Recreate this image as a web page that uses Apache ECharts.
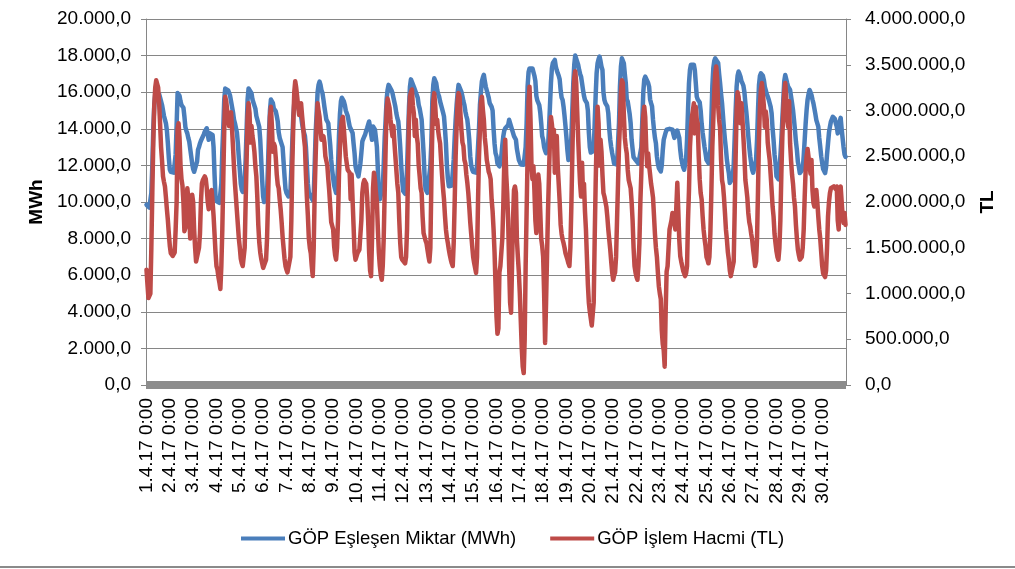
<!DOCTYPE html>
<html>
<head>
<meta charset="utf-8">
<script src="https://cdn.jsdelivr.net/npm/echarts@6/dist/echarts.min.js"></script>
<style>
html,body{margin:0;padding:0;background:#fff;}
#chart{width:1015px;height:569px;}
</style>
</head>
<body>
<div id="chart"></div>
<script>
// Day labels (category axis ticks)
var dayLabels = ['1.4.17','2.4.17','3.4.17','4.4.17','5.4.17','6.4.17','7.4.17','8.4.17','9.4.17','10.4.17',
  '11.4.17','12.4.17','13.4.17','14.4.17','15.4.17','16.4.17','17.4.17','18.4.17','19.4.17','20.4.17',
  '21.4.17','22.4.17','23.4.17','24.4.17','25.4.17','26.4.17','27.4.17','28.4.17','29.4.17','30.4.17'];
var hourLabels = ['0:00','1:00','2:00','3:00','4:00','5:00','6:00','7:00','8:00','9:00','10:00','11:00',
  '12:00','13:00','14:00','15:00','16:00','17:00','18:00','19:00','20:00','21:00','22:00','23:00'];

var leftTicks = [0,2000,4000,6000,8000,10000,12000,14000,16000,18000,20000];
var rightTicks = [0,500000,1000000,1500000,2000000,2500000,3000000,3500000,4000000];

var seriesNames = ['GÖP Eşleşen Miktar (MWh)', 'GÖP İşlem Hacmi (TL)'];

// GÖP Eşleşen Miktar (MWh), hourly, one row per day
var eslesenMWh = [
 9850,9800,9750,9700,9750,10500,12000,14000,15300,15900,16050,16100,16050,15900,15700,15600,15300,15000,14700,14500,14300,13900,13200,12400,
 11770,11650,11600,11600,11600,11650,12600,14200,15950,15950,15800,15500,15300,15250,15150,14670,14100,13900,13750,13500,13300,12900,12500,12100,
 11800,11650,11600,11600,12200,12850,13000,13200,13350,13450,13580,13700,13850,13950,14030,13700,13400,13760,13850,13800,13670,13000,11500,10300,
 10050,10000,9950,9950,10000,11000,12800,14100,15600,16200,16250,16200,16100,15950,15800,15500,15200,14900,14500,14300,14200,13800,13200,12400,
 11750,11000,10670,10550,10500,11200,12300,14000,15600,16200,16200,16100,15950,15600,15550,15500,15100,14700,14500,14400,14100,13400,12300,11200,
 10300,10000,9900,9900,10500,12000,13800,15000,15600,15600,15400,15100,15000,14950,14700,14400,13800,13500,13400,13400,13000,12200,11400,10700,
 10500,10400,10300,10300,10500,11800,13300,14700,15400,15600,15600,15500,15200,15000,14900,14700,14300,14000,13800,13600,13000,12000,11000,10500,
 10400,10300,10200,10100,10300,12000,13800,14850,16000,16400,16580,16400,16100,15950,15600,15200,14850,14500,14400,14300,13700,13100,12300,11750,
 11300,10900,10700,10500,10800,12000,13600,14800,15500,15700,15700,15500,15300,15000,14850,14700,14400,14130,14000,13900,13770,13200,12670,11950,
 11700,11580,11400,11300,12100,12670,13300,13450,13580,13700,13900,14050,14130,14400,14400,14300,13400,14130,14050,13950,13500,13000,11770,10500,
 10150,10130,10150,10800,12000,13500,14500,15600,16130,16400,16350,16300,16100,15950,15700,15450,15200,14850,14580,14400,13800,13000,12000,11200,
 10600,10500,10450,10700,11800,13500,15200,16300,16700,16700,16600,16300,16200,16000,15900,15700,15300,15100,15000,14500,13600,12700,11500,10700,
 10600,10500,10500,10550,12000,13200,15500,16400,16760,16700,16500,16130,15900,15760,15500,15400,15100,14900,14670,14000,13200,12000,11300,10860,
 10860,10860,10900,11000,12300,13500,14500,15300,15950,16400,16500,16300,16000,15760,15500,15300,14950,14700,14500,14000,13400,12500,12000,11770,
 11650,11600,11600,11600,12000,13000,14000,15300,16000,16600,16800,16950,16600,16300,16250,16200,15700,15400,15300,15200,15000,14000,13200,12670,
 12500,12100,12000,11950,12000,12500,13100,13580,13900,14030,14050,14030,14200,14490,14550,14580,13950,13950,13600,13500,13400,12900,12600,12300,
 12200,12050,12040,12040,12040,12100,13000,14300,16300,17100,17300,17350,17400,17300,17100,16900,16600,15800,15550,15500,15300,14900,14300,13600,
 13400,13000,12800,12670,12700,13000,14000,15220,16500,17300,17600,17700,17760,17400,17200,17040,16900,16700,16100,15700,15580,15200,14700,14130,
 13500,12800,12300,12300,12600,13500,15000,16500,17500,18000,18100,17950,17500,17220,17000,16850,16500,16130,15800,15580,15500,15400,15000,13800,
 13000,12700,12670,12670,12800,14300,15800,17040,17580,17800,17950,17700,17400,17220,16000,15580,15400,15300,15220,14850,14000,13400,13000,12670,
 12400,12100,12040,12040,12050,13200,14300,16300,17400,17850,17800,17580,17000,16490,15600,15490,15450,14800,14300,13400,12900,12450,12350,12300,
 12300,12200,12100,12100,12100,13000,14500,16000,16700,16850,16850,16750,16500,16300,15600,15400,15220,14500,13950,13500,13200,12500,12100,11850,
 11750,11670,12000,12800,13400,13600,13800,13950,13950,13950,14000,14000,14000,13950,13700,13500,13400,13600,13900,13950,13500,12850,12400,12130,
 11900,11760,11760,12300,13400,15000,16500,17220,17500,17580,17600,17500,17200,16500,15760,15600,15500,15450,15000,14300,13800,13400,13000,12670,
 12300,12200,12130,12400,12850,14500,16300,17300,17700,17850,17870,17850,17600,17000,16490,15900,15400,14700,14000,13400,12900,12300,11900,11580,
 11040,11000,11220,11400,12000,13500,15000,16300,16900,17130,17000,16850,16600,16490,16350,16000,15400,14900,14300,13600,13000,12500,12100,11760,
 11600,11580,11650,12300,13400,15000,16400,16900,17030,17130,16900,16670,16300,16100,15900,15760,15600,15570,15200,14840,14000,13380,12600,12130,
 11400,11300,11240,11600,12500,13380,14500,15570,16600,16940,16850,16500,16300,16200,16120,15760,15400,15030,14500,13930,13300,12840,12200,11930,
 11580,11550,11490,11800,12500,13380,14300,15030,15600,15900,16120,16000,15850,15600,15390,15100,14800,14480,14300,14120,13500,13020,12500,12130,
 11800,11700,11580,11900,12600,13200,13800,14120,14400,14500,14660,14650,14550,14300,14120,13750,14000,14400,14600,14000,13500,13000,12600,12470
];

// GÖP İşlem Hacmi (TL), hourly, one row per day
var islemHacmiTL = [
 1260e3,1100e3,950e3,930e3,1000e3,1500e3,2100e3,2650e3,3050e3,3250e3,3330e3,3320e3,3250e3,3080e3,2850e3,2600e3,2450e3,2280e3,2220e3,2170e3,2050e3,1920e3,1800e3,1650e3,
 1520e3,1440e3,1420e3,1410e3,1410e3,1450e3,1700e3,2000e3,2800e3,2860e3,2700e3,2400e3,2250e3,2180e3,2000e3,1680e3,1720e3,1900e3,2150e3,2050e3,1850e3,1600e3,1750e3,2080e3,
 2000e3,1700e3,1500e3,1350e3,1330e3,1370e3,1500e3,1650e3,2000e3,2200e3,2240e3,2260e3,2280e3,2250e3,2150e3,2000e3,1920e3,1900e3,2100e3,2130e3,2000e3,1850e3,1650e3,1450e3,
 1300e3,1260e3,1180e3,1120e3,1050e3,1300e3,1700e3,2250e3,2800e3,3150e3,3100e3,3000e3,2900e3,2830e3,2950e3,2980e3,2800e3,2600e3,2380e3,2200e3,2050e3,1900e3,1750e3,1600e3,
 1500e3,1380e3,1330e3,1300e3,1320e3,1500e3,2000e3,2460e3,2930e3,3080e3,2970e3,2650e3,2830e3,2720e3,2650e3,2550e3,2390e3,2280e3,2050e3,1750e3,1560e3,1450e3,1380e3,1330e3,
 1280e3,1280e3,1300e3,1370e3,1600e3,2000e3,2460e3,2930e3,3040e3,2830e3,2550e3,2640e3,2610e3,2480e3,2300e3,2190e3,2150e3,2030e3,1920e3,1780e3,1620e3,1500e3,1380e3,1300e3,
 1260e3,1230e3,1220e3,1250e3,1400e3,1800e3,2400e3,2850e3,3200e3,3320e3,3250e3,3150e3,3040e3,2950e3,2950e3,3080e3,2950e3,2830e3,2700e3,2600e3,2300e3,2050e3,1850e3,1600e3,
 1500e3,1440e3,1300e3,1190e3,1500e3,2100e3,2500e3,2830e3,3080e3,3000e3,2930e3,2800e3,2680e3,2700e3,2720e3,2650e3,2500e3,2500e3,2400e3,2250e3,2120e3,1950e3,1780e3,1740e3,
 1700e3,1520e3,1420e3,1370e3,1500e3,1800e3,2300e3,2600e3,2800e3,2900e3,2930e3,2800e3,2650e3,2500e3,2420e3,2350e3,2330e3,2320e3,2030e3,2300e3,2320e3,1740e3,1450e3,1370e3,
 1390e3,1440e3,1450e3,1480e3,1500e3,1800e3,2100e3,2200e3,2240e3,2260e3,2200e3,2050e3,1800e3,1450e3,1250e3,1190e3,1600e3,2150e3,2320e3,2240e3,2100e3,2000e3,1700e3,1450e3,
 1300e3,1200e3,1150e3,1300e3,1600e3,2100e3,2600e3,3010e3,3130e3,3150e3,3030e3,2900e3,2800e3,2720e3,2830e3,2650e3,2500e3,2350e3,2200e3,2100e3,1800e3,1550e3,1400e3,1370e3,
 1370e3,1350e3,1330e3,1400e3,1700e3,2300e3,2900e3,3150e3,3200e3,3230e3,3050e3,2970e3,2720e3,2900e3,2720e3,2640e3,2400e3,2280e3,2150e3,2100e3,1840e3,1660e3,1620e3,1580e3,
 1550e3,1480e3,1410e3,1350e3,1500e3,2200e3,2800e3,3100e3,3190e3,3050e3,2850e3,2900e3,2780e3,2700e3,2640e3,2460e3,2300e3,2150e3,2030e3,1850e3,1700e3,1610e3,1550e3,1480e3,
 1420e3,1370e3,1330e3,1300e3,1550e3,2000e3,2500e3,2830e3,3100e3,3190e3,3150e3,2950e3,2780e3,2650e3,2610e3,2460e3,2420e3,2300e3,2210e3,2100e3,1950e3,1780e3,1650e3,1520e3,
 1400e3,1335e3,1280e3,1225e3,1400e3,2000e3,2500e3,2800e3,3080e3,3150e3,3010e3,2900e3,2700e3,2600e3,2460e3,2400e3,2330e3,2300e3,2250e3,2030e3,1900e3,1700e3,1450e3,1100e3,
 750e3,560e3,620e3,1230e3,1300e3,1280e3,1600e3,1950e3,2430e3,2680e3,2300e3,2100e3,1800e3,1300e3,900e3,790e3,1300e3,1800e3,2130e3,2170e3,2100e3,1590e3,1400e3,1230e3,
 1000e3,700e3,400e3,200e3,130e3,500e3,1300e3,1900e3,2500e3,3100e3,3260e3,2900e3,2400e3,2250e3,2390e3,2130e3,1800e3,1660e3,1810e3,2300e3,2200e3,1900e3,1600e3,1520e3,
 1400e3,1000e3,460e3,900e3,1410e3,1900e3,2300e3,2680e3,2930e3,2850e3,2720e3,2790e3,2320e3,2500e3,2720e3,2390e3,2200e3,2000e3,1750e3,1650e3,1590e3,1550e3,1500e3,1440e3,
 1420e3,1370e3,1330e3,1300e3,1500e3,1950e3,2500e3,3000e3,3350e3,3430e3,3300e3,3000e3,2700e3,2430e3,2200e3,2060e3,2430e3,2100e3,2200e3,1900e3,1700e3,1400e3,1100e3,900e3,
 800e3,790e3,650e3,640e3,900e3,1590e3,2200e3,2700e3,3040e3,2860e3,2400e3,2680e3,2550e3,2300e3,2100e3,2060e3,2040e3,1950e3,1840e3,1700e3,1590e3,1480e3,1350e3,1230e3,
 1150e3,1200e3,1230e3,1400e3,1800e3,2200e3,2600e3,2860e3,3200e3,3330e3,3300e3,2950e3,2700e3,2600e3,2530e3,2350e3,2240e3,2220e3,2150e3,2000e3,1800e3,1500e3,1300e3,1230e3,
 1180e3,1150e3,1300e3,1550e3,2000e3,2320e3,2700e3,2950e3,3040e3,2930e3,2600e3,2390e3,2530e3,2400e3,2300e3,2200e3,2130e3,2050e3,1850e3,1650e3,1500e3,1400e3,1230e3,1080e3,
 1000e3,940e3,600e3,450e3,380e3,200e3,800e3,1240e3,1300e3,1500e3,1700e3,1750e3,1800e3,1880e3,1850e3,1800e3,1700e3,1950e3,2210e3,1900e3,1590e3,1410e3,1350e3,1300e3,
 1250e3,1230e3,1190e3,1220e3,1300e3,1800e3,2130e3,2600e3,2800e3,2930e3,3000e3,3080e3,2750e3,3040e3,2900e3,2860e3,2500e3,2250e3,2100e3,2030e3,1850e3,1700e3,1600e3,1520e3,
 1400e3,1370e3,1330e3,1400e3,1660e3,2100e3,2600e3,2900e3,3200e3,3410e3,3480e3,3350e3,3050e3,2900e3,2800e3,2460e3,2240e3,2180e3,2050e3,1880e3,1700e3,1590e3,1450e3,1370e3,
 1250e3,1190e3,1180e3,1170e3,1350e3,1900e3,2500e3,3000e3,3200e3,3150e3,3040e3,2860e3,3080e3,2900e3,2700e3,2500e3,2240e3,2150e3,2050e3,1880e3,1780e3,1730e3,1650e3,1590e3,
 1480e3,1400e3,1300e3,1350e3,1600e3,2130e3,2700e3,3050e3,3230e3,3300e3,3190e3,3050e3,2820e3,2990e3,2900e3,2650e3,2550e3,2460e3,2300e3,2130e3,1950e3,1840e3,1650e3,1550e3,
 1460e3,1400e3,1370e3,1500e3,1800e3,2300e3,2700e3,2990e3,3200e3,3300e3,3150e3,2900e3,2820e3,3100e3,2640e3,2450e3,2300e3,2200e3,2050e3,1950e3,1750e3,1600e3,1480e3,1420e3,
 1370e3,1380e3,1400e3,1500e3,1700e3,2050e3,2350e3,2500e3,2580e3,2600e3,2400e3,2310e3,2460e3,2130e3,1990e3,1950e3,1930e3,2130e3,2000e3,1840e3,1700e3,1600e3,1450e3,1300e3,
 1220e3,1200e3,1180e3,1250e3,1500e3,1840e3,2000e3,2100e3,2150e3,2160e3,2170e3,2170e3,2150e3,2140e3,2170e3,1800e3,1700e3,2080e3,2170e3,2170e3,1850e3,1770e3,1880e3,1750e3
];

// Build hourly category labels from the day and hour lists
var categories = [];
dayLabels.forEach(function (d) { hourLabels.forEach(function (h) { categories.push(d + ' ' + h); }); });

function trFmt(v) {
  return String(Math.round(v)).replace(/\B(?=(\d{3})+(?!\d))/g, '.') + ',0';
}

var FONT = 'Liberation Sans';
var chart = echarts.init(document.getElementById('chart'), null, {renderer: 'canvas'});
chart.setOption({
  animation: false,
  backgroundColor: '#ffffff',
  textStyle: {fontFamily: FONT},
  grid: {left: 146, right: 169, top: 19, bottom: 184, containLabel: false},
  legend: {
    data: seriesNames,
    left: 236, top: 524,
    icon: 'rect', itemWidth: 44, itemHeight: 4, itemGap: 34,
    textStyle: {fontFamily: FONT, fontSize: 18.5, color: '#000000', padding: [0, 0, 0, -2]}
  },
  xAxis: {
    type: 'category',
    data: categories,
    boundaryGap: true,
    offset: 8,
    axisLine: {show: true, lineStyle: {color: '#8c8c8c', width: 8, cap: 'butt'}},
    axisTick: {show: false},
    axisLabel: {
      interval: 23, rotate: 90, margin: 5,
      fontFamily: FONT, fontSize: 19, color: '#000000'
    },
    splitLine: {show: false}
  },
  yAxis: [
    {
      type: 'value', min: leftTicks[0], max: leftTicks[leftTicks.length - 1], interval: leftTicks[1] - leftTicks[0],
      name: 'MWh', nameLocation: 'middle', nameGap: 100, nameRotate: 90,
      nameTextStyle: {fontFamily: FONT, fontSize: 19, fontWeight: 'bold', color: '#000000'},
      axisLine: {show: true, lineStyle: {color: '#868686', width: 1}},
      axisTick: {show: true, length: 5, lineStyle: {color: '#868686'}},
      axisLabel: {formatter: trFmt, margin: 15, fontFamily: FONT, fontSize: 19, color: '#000000'},
      splitLine: {show: true, lineStyle: {color: '#868686', width: 1}}
    },
    {
      type: 'value', min: rightTicks[0], max: rightTicks[rightTicks.length - 1], interval: rightTicks[1] - rightTicks[0],
      position: 'right',
      name: 'TL', nameLocation: 'middle', nameGap: 132, nameRotate: 90,
      nameTextStyle: {fontFamily: FONT, fontSize: 19, fontWeight: 'bold', color: '#000000'},
      axisLine: {show: true, lineStyle: {color: '#868686', width: 1}},
      axisTick: {show: true, length: 5, lineStyle: {color: '#868686'}},
      axisLabel: {formatter: trFmt, margin: 19, fontFamily: FONT, fontSize: 19, color: '#000000'},
      splitLine: {show: false}
    }
  ],
  series: [
    {
      name: seriesNames[0], type: 'line', yAxisIndex: 0, data: eslesenMWh,
      showSymbol: false, symbol: 'none', smooth: false,
      lineStyle: {color: '#4A7EBB', width: 4.5, join: 'round', cap: 'round'},
      itemStyle: {color: '#4A7EBB'}
    },
    {
      name: seriesNames[1], type: 'line', yAxisIndex: 1, data: islemHacmiTL,
      showSymbol: false, symbol: 'none', smooth: false,
      lineStyle: {color: '#BE4B48', width: 4.5, join: 'round', cap: 'round'},
      itemStyle: {color: '#BE4B48'}
    }
  ],
  graphic: [
    {type: 'rect', left: 0, top: 566, shape: {width: 1015, height: 2}, style: {fill: '#8a8a8a'}, silent: true}
  ]
});
</script>
</body>
</html>
